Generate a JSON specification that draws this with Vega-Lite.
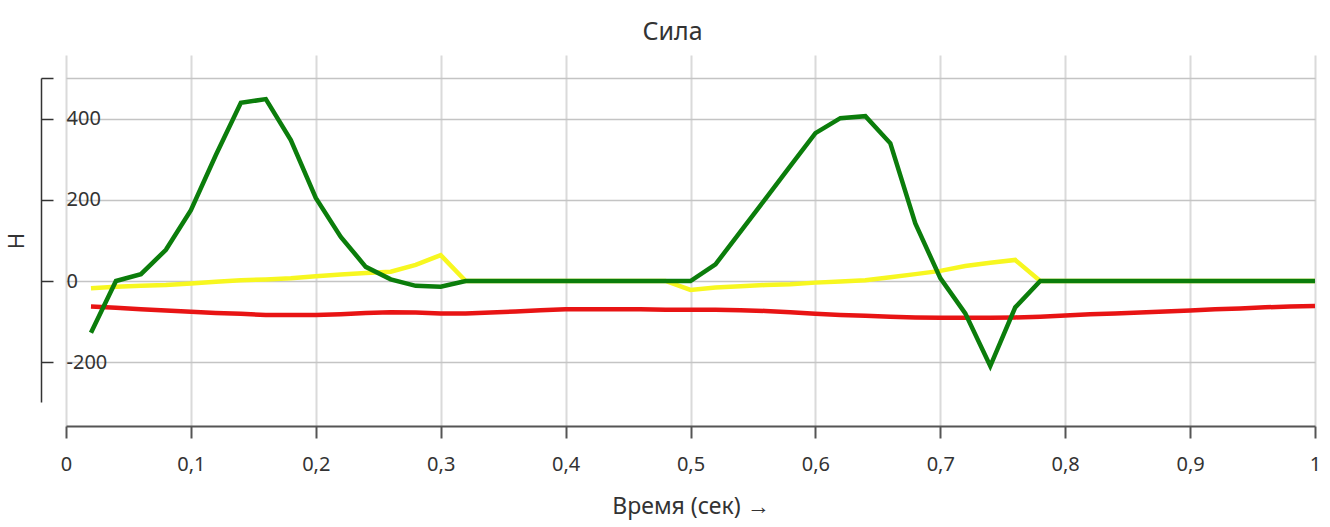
{
  "$schema": "https://vega.github.io/schema/vega-lite/v6.json",
  "autosize": {"type": "none"},
  "width": 1249,
  "height": 371,
  "padding": {"left": 66, "top": 55, "right": 15, "bottom": 101},
  "background": "white",
  "title": {"text": "Сила", "fontSize": 25, "font": "Noto Sans", "fontWeight": "normal", "color": "#333333", "offset": 10, "dx": -18},
  "config": {"view": {"stroke": null}, "font": "Noto Sans"},
  "data": {"values": [
    {"t":0.02,"F":-63,"series":"F1"},{"t":0.04,"F":-66,"series":"F1"},{"t":0.06,"F":-70,"series":"F1"},{"t":0.08,"F":-73,"series":"F1"},{"t":0.10,"F":-76,"series":"F1"},
    {"t":0.12,"F":-79,"series":"F1"},{"t":0.14,"F":-81,"series":"F1"},{"t":0.16,"F":-84,"series":"F1"},{"t":0.18,"F":-84,"series":"F1"},{"t":0.20,"F":-84,"series":"F1"},
    {"t":0.22,"F":-82,"series":"F1"},{"t":0.24,"F":-79,"series":"F1"},{"t":0.26,"F":-77,"series":"F1"},{"t":0.28,"F":-78,"series":"F1"},{"t":0.30,"F":-80,"series":"F1"},
    {"t":0.32,"F":-80,"series":"F1"},{"t":0.34,"F":-78,"series":"F1"},{"t":0.36,"F":-75,"series":"F1"},{"t":0.38,"F":-72,"series":"F1"},{"t":0.40,"F":-70,"series":"F1"},
    {"t":0.42,"F":-70,"series":"F1"},{"t":0.44,"F":-70,"series":"F1"},{"t":0.46,"F":-70,"series":"F1"},{"t":0.48,"F":-71,"series":"F1"},{"t":0.50,"F":-71,"series":"F1"},
    {"t":0.52,"F":-71,"series":"F1"},{"t":0.54,"F":-72,"series":"F1"},{"t":0.56,"F":-74,"series":"F1"},{"t":0.58,"F":-77,"series":"F1"},{"t":0.60,"F":-81,"series":"F1"},
    {"t":0.62,"F":-84,"series":"F1"},{"t":0.64,"F":-86,"series":"F1"},{"t":0.66,"F":-88,"series":"F1"},{"t":0.68,"F":-90,"series":"F1"},{"t":0.70,"F":-91,"series":"F1"},
    {"t":0.72,"F":-91,"series":"F1"},{"t":0.74,"F":-91,"series":"F1"},{"t":0.76,"F":-90,"series":"F1"},{"t":0.78,"F":-88,"series":"F1"},{"t":0.80,"F":-85,"series":"F1"},
    {"t":0.82,"F":-82,"series":"F1"},{"t":0.84,"F":-80,"series":"F1"},{"t":0.86,"F":-78,"series":"F1"},{"t":0.88,"F":-75,"series":"F1"},{"t":0.90,"F":-73,"series":"F1"},
    {"t":0.92,"F":-70,"series":"F1"},{"t":0.94,"F":-68,"series":"F1"},{"t":0.96,"F":-65,"series":"F1"},{"t":0.98,"F":-63,"series":"F1"},{"t":1.00,"F":-62,"series":"F1"},

    {"t":0.02,"F":-18,"series":"F2"},{"t":0.04,"F":-14,"series":"F2"},{"t":0.06,"F":-12,"series":"F2"},{"t":0.08,"F":-10,"series":"F2"},{"t":0.10,"F":-6,"series":"F2"},
    {"t":0.12,"F":-2,"series":"F2"},{"t":0.14,"F":2,"series":"F2"},{"t":0.16,"F":4,"series":"F2"},{"t":0.18,"F":7,"series":"F2"},{"t":0.20,"F":12,"series":"F2"},
    {"t":0.22,"F":16,"series":"F2"},{"t":0.24,"F":20,"series":"F2"},{"t":0.26,"F":23,"series":"F2"},{"t":0.28,"F":40,"series":"F2"},{"t":0.30,"F":64,"series":"F2"},
    {"t":0.32,"F":0,"series":"F2"},{"t":0.34,"F":0,"series":"F2"},{"t":0.36,"F":0,"series":"F2"},{"t":0.38,"F":0,"series":"F2"},{"t":0.40,"F":0,"series":"F2"},
    {"t":0.42,"F":0,"series":"F2"},{"t":0.44,"F":0,"series":"F2"},{"t":0.46,"F":0,"series":"F2"},{"t":0.48,"F":0,"series":"F2"},{"t":0.50,"F":-22,"series":"F2"},
    {"t":0.52,"F":-16,"series":"F2"},{"t":0.54,"F":-13,"series":"F2"},{"t":0.56,"F":-10,"series":"F2"},{"t":0.58,"F":-8,"series":"F2"},{"t":0.60,"F":-4,"series":"F2"},
    {"t":0.62,"F":-1,"series":"F2"},{"t":0.64,"F":2,"series":"F2"},{"t":0.66,"F":9,"series":"F2"},{"t":0.68,"F":17,"series":"F2"},{"t":0.70,"F":25,"series":"F2"},
    {"t":0.72,"F":37,"series":"F2"},{"t":0.74,"F":45,"series":"F2"},{"t":0.76,"F":52,"series":"F2"},{"t":0.78,"F":0,"series":"F2"},{"t":0.80,"F":0,"series":"F2"},
    {"t":0.82,"F":0,"series":"F2"},{"t":0.84,"F":0,"series":"F2"},{"t":0.86,"F":0,"series":"F2"},{"t":0.88,"F":0,"series":"F2"},{"t":0.90,"F":0,"series":"F2"},
    {"t":0.92,"F":0,"series":"F2"},{"t":0.94,"F":0,"series":"F2"},{"t":0.96,"F":0,"series":"F2"},{"t":0.98,"F":0,"series":"F2"},{"t":1.00,"F":0,"series":"F2"},

    {"t":0.02,"F":-128,"series":"F3"},{"t":0.04,"F":0,"series":"F3"},{"t":0.06,"F":17,"series":"F3"},{"t":0.08,"F":77,"series":"F3"},{"t":0.10,"F":175,"series":"F3"},
    {"t":0.12,"F":311,"series":"F3"},{"t":0.14,"F":440,"series":"F3"},{"t":0.16,"F":449,"series":"F3"},{"t":0.18,"F":348,"series":"F3"},{"t":0.20,"F":205,"series":"F3"},
    {"t":0.22,"F":109,"series":"F3"},{"t":0.24,"F":35,"series":"F3"},{"t":0.26,"F":4,"series":"F3"},{"t":0.28,"F":-12,"series":"F3"},{"t":0.30,"F":-14,"series":"F3"},
    {"t":0.32,"F":0,"series":"F3"},{"t":0.34,"F":0,"series":"F3"},{"t":0.36,"F":0,"series":"F3"},{"t":0.38,"F":0,"series":"F3"},{"t":0.40,"F":0,"series":"F3"},
    {"t":0.42,"F":0,"series":"F3"},{"t":0.44,"F":0,"series":"F3"},{"t":0.46,"F":0,"series":"F3"},{"t":0.48,"F":0,"series":"F3"},{"t":0.50,"F":0,"series":"F3"},
    {"t":0.52,"F":41,"series":"F3"},{"t":0.54,"F":122,"series":"F3"},{"t":0.56,"F":203,"series":"F3"},{"t":0.58,"F":284,"series":"F3"},{"t":0.60,"F":365,"series":"F3"},
    {"t":0.62,"F":402,"series":"F3"},{"t":0.64,"F":407,"series":"F3"},{"t":0.66,"F":340,"series":"F3"},{"t":0.68,"F":142,"series":"F3"},{"t":0.70,"F":7,"series":"F3"},
    {"t":0.72,"F":-80,"series":"F3"},{"t":0.74,"F":-210,"series":"F3"},{"t":0.76,"F":-65,"series":"F3"},{"t":0.78,"F":0,"series":"F3"},{"t":0.80,"F":0,"series":"F3"},
    {"t":0.82,"F":0,"series":"F3"},{"t":0.84,"F":0,"series":"F3"},{"t":0.86,"F":0,"series":"F3"},{"t":0.88,"F":0,"series":"F3"},{"t":0.90,"F":0,"series":"F3"},
    {"t":0.92,"F":0,"series":"F3"},{"t":0.94,"F":0,"series":"F3"},{"t":0.96,"F":0,"series":"F3"},{"t":0.98,"F":0,"series":"F3"},{"t":1.00,"F":0,"series":"F3"}
  ]},
  "mark": {"type": "line", "strokeWidth": 4.5, "strokeJoin": "miter"},
  "encoding": {
    "x": {
      "field": "t", "type": "quantitative",
      "scale": {"domain": [0, 1], "nice": false, "zero": false},
      "axis": {
        "title": "Время (сек) →",
        "values": [0, 0.1, 0.2, 0.3, 0.4, 0.5, 0.6, 0.7, 0.8, 0.9, 1],
        "labelExpr": "replace(datum.value + '', '.', ',')",
        "labelFontSize": 20, "labelColor": "#333333", "labelPadding": 16,
        "titleFontSize": 23, "titleFontWeight": "normal", "titleColor": "#333333", "titlePadding": 21,
        "tickSize": 12, "tickWidth": 2, "tickColor": "#555555",
        "domainColor": "#555555", "domainWidth": 2,
        "grid": true, "gridColor": "#dadada", "gridWidth": 2,
        "labelFlush": false, "labelOverlap": false
      }
    },
    "y": {
      "field": "F", "type": "quantitative",
      "scale": {"domain": [-358, 558], "nice": false, "zero": false},
      "axis": {
        "title": "Н",
        "values": [-200, 0, 200, 400, 500],
        "labelExpr": "datum.value == 500 ? '' : datum.value + ''",
        "offset": 25,
        "tickSize": -12, "tickWidth": 1.5, "tickColor": "#333333",
        "labelAlign": "left", "labelPadding": -13, "labelBaseline": "middle",
        "labelFontSize": 20, "labelColor": "#333333",
        "titleFontSize": 22, "titleFontWeight": "normal", "titleColor": "#333333", "titlePadding": 12,
        "domainColor": "#333333", "domainWidth": 1.5,
        "domainDash": [0, 24, 324, 400], "domainCap": "butt",
        "grid": true, "gridColor": "#c4c4c4", "gridWidth": 1.5
      }
    },
    "color": {
      "field": "series", "type": "nominal",
      "scale": {"domain": ["F1", "F2", "F3"], "range": ["#e81414", "#f7f720", "#0b7d0b"]},
      "legend": null
    }
  }
}
